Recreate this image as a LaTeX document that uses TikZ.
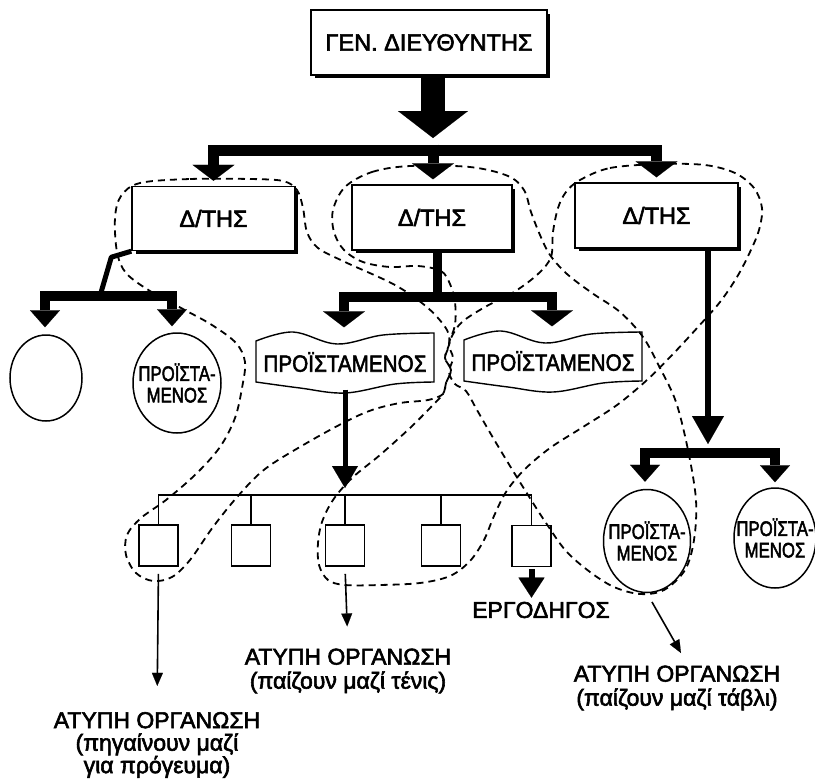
\documentclass[tikz,border=0pt]{standalone}
\usepackage{graphicx}
\usepackage{fontspec}
\setmainfont{Liberation Sans}[FakeBold=2.5]
\usetikzlibrary{arrows.meta,shapes.geometric,calc}

% horizontally condensed text
\newcommand\narrow[2]{\scalebox{#1}[1]{#2}}

% heavier right and bottom edges of a box
\newcommand\boxshadow[1]{%
  \draw[line width=3pt] ($(#1.north east)+(1,5)$) -- ($(#1.south east)+(1,1)$) -- ($(#1.south west)+(5,1)$);}

% wavy (flag) outline around a node
\newcommand\flagframe[1]{%
  \begin{scope}[shift={(#1.center)}]
    \draw[flagline] plot[smooth, tension=0.6] coordinates {(-89,-21) (-52,-30) (-8,-18) (38,-27) (89,-29)}
      -- plot[smooth, tension=0.6] coordinates {(89,20) (50,22) (0,31) (-45,26) (-89,20)} -- cycle;
  \end{scope}}

\tikzset{
  every node/.style={inner sep=0pt},
  dbox/.style={draw, line width=1.4pt, minimum width=163pt, minimum height=64pt,
    font=\fontsize{23.5}{24}\selectfont},
  sq/.style={draw, line width=1.6pt, minimum width=39pt, minimum height=41pt},
  oval/.style={ellipse, draw, line width=1.5pt},
  ovaltext/.style={align=center, font=\fontsize{21}{21.5}\selectfont},
  flagtext/.style={font=\fontsize{23.5}{24}\selectfont, minimum width=177pt, minimum height=55pt},
  lbl/.style={align=center, font=\fontsize{23}{24}\selectfont},
  informal/.style={dash pattern=on 7pt off 5pt, line width=1.8pt},
  flagline/.style={line width=1.4pt},
  thinarrow/.style={line width=1.6pt, -{Triangle[width=11pt,length=13pt,line width=0.1pt]}},
  bigtip/.tip={Triangle[width=42pt,length=16pt,line width=0.1pt]},
  midtip/.tip={Triangle[width=30pt,length=17pt,line width=0.1pt]},
}

\begin{document}
\begin{tikzpicture}[x=1pt,y=-1pt]
\useasboundingbox (0,0) rectangle (815,780);

% ---------- formal structure ----------
\node[dbox, minimum width=236pt, minimum height=65pt] (gd) at (429,42.5) {ΓΕΝ. ΔΙΕΥΘΥΝΤΗΣ};
\node[dbox] (d1) at (213.5,218.5) {Δ/ΤΗΣ};
\node[dbox, minimum width=160pt, minimum height=65pt] (d2) at (432,217.5) {Δ/ΤΗΣ};
\node[dbox, minimum height=65pt] (d3) at (656.5,215.5) {Δ/ΤΗΣ};
\boxshadow{gd}
\boxshadow{d1}
\boxshadow{d2}
\boxshadow{d3}

\node[oval, minimum width=72pt, minimum height=86pt] (c1) at (46,378) {};
\node[oval, minimum width=88pt, minimum height=100pt,
  label={[ovaltext]center:{\narrow{0.8}{ΠΡΟΪΣΤΑ-}\\\narrow{0.8}{ΜΕΝΟΣ}}}] (c2) at (177,383) {};

\node[flagtext] (w1) at (345,362) {\narrow{0.88}{ΠΡΟΪΣΤΑΜΕΝΟΣ}};
\node[flagtext] (w2) at (553,361) {\narrow{0.88}{ΠΡΟΪΣΤΑΜΕΝΟΣ}};
\flagframe{w1}
\flagframe{w2}

\node[oval, minimum width=87pt, minimum height=103pt,
  label={[ovaltext]center:{\narrow{0.8}{ΠΡΟΪΣΤΑ-}\\\narrow{0.8}{ΜΕΝΟΣ}}}] (p1) at (647,541) {};
\node[oval, minimum width=82pt, minimum height=100pt,
  label={[ovaltext]center:{\narrow{0.8}{ΠΡΟΪΣΤΑ-}\\\narrow{0.8}{ΜΕΝΟΣ}}}] (p2) at (775,538) {};

\node[sq] (s1) at (158.5,545.5) {};
\node[sq] (s2) at (251,545.5) {};
\node[sq] (s3) at (345,545.5) {};
\node[sq] (s4) at (441,545.5) {};
\node[sq] (s5) at (531.5,546) {};

\node[lbl] (ergo) at (541,610) {ΕΡΓΟΔΗΓΟΣ};
\node[lbl] (tennis) at (348,671) {ΑΤΥΠΗ ΟΡΓΑΝΩΣΗ\\(παίζουν μαζί τένις)};
\node[lbl, font=\fontsize{23}{22.5}\selectfont] (lunch) at (157,745)
  {ΑΤΥΠΗ ΟΡΓΑΝΩΣΗ\\(πηγαίνουν μαζί\\για πρόγευμα)};
\node[lbl] (tavli) at (677,688) {ΑΤΥΠΗ ΟΡΓΑΝΩΣΗ\\(παίζουν μαζί τάβλι)};

% branching points
\coordinate (hub) at (433,150);
\coordinate (hubL) at (100,296);
\coordinate (hubM) at (437,297);
\coordinate (barS) at (345,495);
\coordinate (hubR) at (708,453);
\coordinate (tv) at (681,653);

% ---------- formal connectors ----------
\draw[line width=24pt, -{Triangle[width=70pt,length=27pt,line width=0.1pt]}]
  (gd.south -| hub) -- ($(hub)+(0,-12)$);
\draw[line width=11pt, bigtip-bigtip]
  ($(d1.north)+(0,-5)$) |- (hub) -| ($(d3.north)+(0,-5)$);
\draw[line width=11pt, -bigtip] ($(hub)+(0,-5.5)$) -- ($(d2.north -| hub)+(0,-5)$);

\draw[line width=5pt, line join=round] (d1.south west) -- ($(d1.south west)+(-20,6)$) -- (hubL);
\draw[line width=10pt, midtip-midtip]
  ($(c1.north)+(-1,-7)$) |- (hubL) -| ($(c2.north)+(-5,-6)$);

\draw[line width=9pt] (d2.south -| hubM) -- ($(hubM)+(0,-5)$);
\draw[line width=10pt, bigtip-bigtip]
  ($(w1.north)+(-1,-7)$) |- (hubM) -| ($(w2.north)+(-1,-7)$);

\draw[line width=5pt, -{Triangle[width=26pt,length=22pt,line width=0.1pt]}]
  (w1.south) -- ($(w1.south |- barS)+(0,-7)$);
\draw[line width=1.8pt] (s1.north) |- (barS) -| (s5.north);
\foreach \s in {s2,s3,s4} \draw[line width=1.8pt] (\s.north) -- (\s.north |- barS);

\draw[line width=6pt, -{Triangle[width=32pt,length=28pt,line width=0.1pt]}]
  (d3.south -| hubR) -- ($(hubR)+(0,-9)$);
\draw[line width=10pt, midtip-midtip]
  ($(p1.north)+(-2,-7)$) |- (hubR) -| ($(p2.north)+(0,-5)$);

\draw[thinarrow, shorten <=7pt, shorten >=26pt] (s1.south) -- (lunch.north);
\draw[thinarrow, shorten <=7pt, shorten >=22pt] (s3.south) -- (tennis.north);
\draw[line width=6pt, -{Triangle[width=26pt,length=20pt,line width=0.1pt]}, shorten <=2pt, shorten >=4pt]
  (s5.south) -- (s5.south |- ergo.north);
\draw[thinarrow, shorten <=10pt] (p1.south) -- (tv);

% ---------- informal groups ----------
% lunch group
\draw[informal] plot[smooth cycle, tension=0.55] coordinates {
  (140,183) (190,179) (250,179) (283,181) (297,190) (303,208) (307,232) (318,248)
  (345,262) (395,285) (428,308) (447,330) (449,345) (445,358) (451,370) (446,383)
  (443,394) (428,400) (400,403) (372,410) (345,422) (305,444) (265,469) (238,496)
  (213,527) (190,560) (172,577) (153,581) (136,573) (126,555) (127,535) (141,518)
  (166,500) (196,474) (220,447) (235,418) (242,388) (245,362) (236,343) (212,325)
  (183,309) (150,291) (126,273) (117,252) (115,218) (121,196)};
% backgammon group
\draw[informal] plot[smooth cycle, tension=0.55] coordinates {
  (345,187) (372,172) (410,166) (470,167) (508,176) (524,190) (531,212) (540,235)
  (550,255) (567,274) (592,293) (620,312) (643,337) (660,368) (676,402) (688,450)
  (696,500) (694,540) (685,570) (664,590) (640,594) (614,587) (590,572) (566,551)
  (546,523) (528,495) (510,466) (492,436) (477,410) (466,391) (455,384) (449,372)
  (453,358) (449,344) (455,325) (455,302) (450,284) (441,271) (418,266) (390,267)
  (363,262) (344,250) (334,232) (333,210)};
% tennis group
\draw[informal] plot[smooth cycle, tension=0.55] coordinates {
  (580,180) (610,168) (660,164) (705,165) (735,173) (754,188) (762,208) (759,230)
  (750,252) (737,277) (720,302) (698,327) (673,354) (647,380) (617,405) (583,427)
  (550,448) (524,470) (506,492) (494,516) (484,540) (470,561) (450,576) (420,583)
  (380,585) (345,585) (328,580) (319,565) (318,543) (322,522) (333,500) (352,478)
  (380,455) (410,428) (431,407) (443,394) (446,383) (451,370) (445,358) (449,345)
  (452,336) (462,322) (485,307) (514,292) (538,274) (551,257) (553,232) (558,208)
  (566,192)};
\end{tikzpicture}
\end{document}
